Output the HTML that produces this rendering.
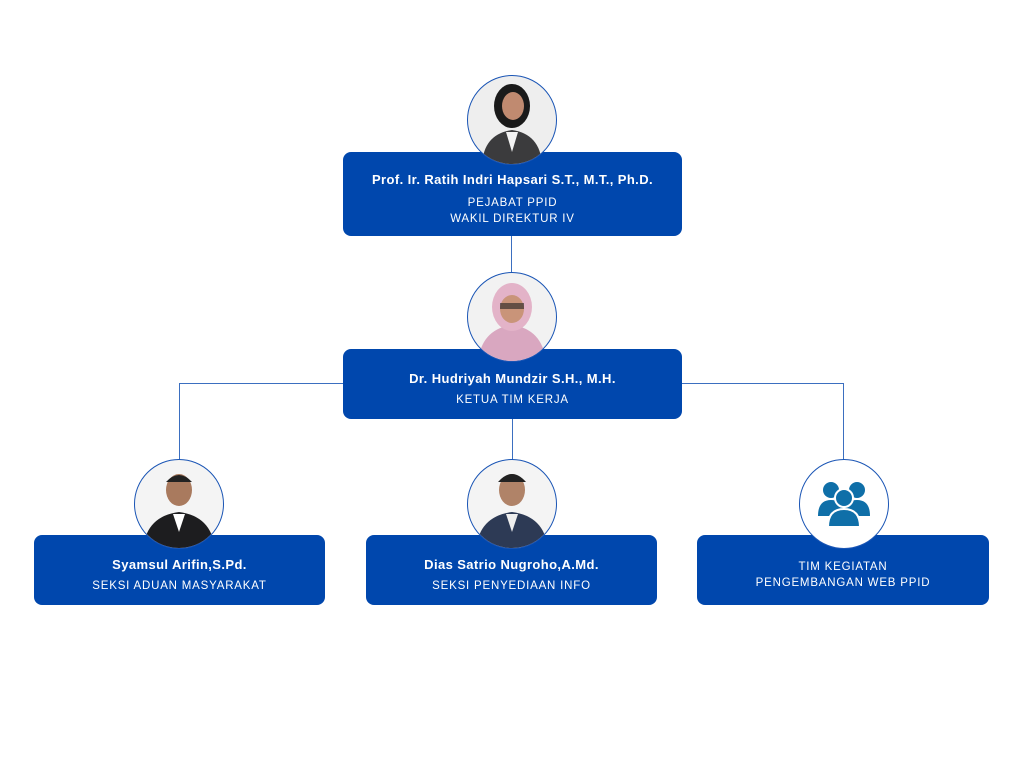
<!DOCTYPE html>
<html><head><meta charset="utf-8"><style>
body{margin:0;width:1024px;height:768px;background:#fff;position:relative;overflow:hidden;font-family:"Liberation Sans",sans-serif}
.box{position:absolute;background:#0047ad;border-radius:8px;color:#fff;text-align:center}
.n{font-weight:bold;font-size:13px;letter-spacing:.4px}
.r{font-size:11.5px;letter-spacing:.8px;line-height:16px}
.c{position:absolute;width:88px;height:88px;border-radius:50%;border:1.5px solid #1a55b5;background:#fff;overflow:hidden}
.l{position:absolute;background:#3b6fc0}
</style></head><body>
<div class="l" style="left:511px;top:236px;width:1px;height:40px"></div>
<div class="l" style="left:179px;top:383px;width:665px;height:1px"></div>
<div class="l" style="left:179px;top:383px;width:1px;height:78px"></div>
<div class="l" style="left:843px;top:383px;width:1px;height:78px"></div>
<div class="l" style="left:512px;top:419px;width:1px;height:42px"></div>

<div class="box" style="left:343px;top:152px;width:339px;height:84px">
<div class="n" style="margin-top:20px">Prof. Ir. Ratih Indri Hapsari S.T., M.T., Ph.D.</div>
<div class="r" style="margin-top:8px">PEJABAT PPID<br>WAKIL DIREKTUR IV</div></div>
<div class="box" style="left:343px;top:349px;width:339px;height:70px">
<div class="n" style="margin-top:22px">Dr. Hudriyah Mundzir S.H., M.H.</div>
<div class="r" style="margin-top:6px">KETUA TIM KERJA</div></div>
<div class="box" style="left:34px;top:535px;width:291px;height:70px">
<div class="n" style="margin-top:22px">Syamsul Arifin,S.Pd.</div>
<div class="r" style="margin-top:6px">SEKSI ADUAN MASYARAKAT</div></div>
<div class="box" style="left:366px;top:535px;width:291px;height:70px">
<div class="n" style="margin-top:22px">Dias Satrio Nugroho,A.Md.</div>
<div class="r" style="margin-top:6px">SEKSI PENYEDIAAN INFO</div></div>
<div class="box" style="left:697px;top:535px;width:292px;height:70px">
<div class="r" style="margin-top:24px">TIM KEGIATAN<br>PENGEMBANGAN WEB PPID</div></div>

<div class="c" style="left:467px;top:75px;background:#eee"><svg width="88" height="88"><ellipse cx="44" cy="30" rx="18" ry="22" fill="#1a1a1a"/><ellipse cx="45" cy="30" rx="11" ry="14" fill="#c08a70"/><path d="M14 88 Q16 58 44 54 Q72 58 74 88Z" fill="#3b3b3d"/><path d="M38 56 L44 76 L50 56Z" fill="#f2f2f2"/></svg></div>
<div class="c" style="left:467px;top:272px;background:#f2f2f2"><svg width="88" height="88"><path d="M10 88 Q14 56 44 52 Q74 56 78 88Z" fill="#d9a7c0"/><ellipse cx="44" cy="34" rx="20" ry="24" fill="#e3b3c8"/><ellipse cx="44" cy="36" rx="12" ry="14" fill="#c99479"/><rect x="32" y="30" width="24" height="6" fill="#222" opacity=".6"/></svg></div>
<div class="c" style="left:134px;top:459px;background:#f4f4f4"><svg width="88" height="88"><ellipse cx="44" cy="30" rx="13" ry="16" fill="#a97a5e"/><path d="M31 22 Q44 8 57 22Z" fill="#222"/><path d="M8 88 Q12 56 44 52 Q76 56 80 88Z" fill="#1d1d1f"/><path d="M38 54 L44 72 L50 54Z" fill="#fff"/></svg></div>
<div class="c" style="left:467px;top:459px;background:#f4f4f4"><svg width="88" height="88"><ellipse cx="44" cy="30" rx="13" ry="16" fill="#b08368"/><path d="M30 22 Q44 6 58 22Z" fill="#222"/><path d="M8 88 Q12 56 44 52 Q76 56 80 88Z" fill="#2d3a55"/><path d="M38 54 L44 72 L50 54Z" fill="#eee"/></svg></div>
<div class="c" style="left:799px;top:459px"><svg width="88" height="88" fill="#0f6fa8"><circle cx="31" cy="30" r="8"/><circle cx="57" cy="30" r="8"/><path d="M18 56 Q18 40 31 40 Q44 40 44 56Z"/><path d="M44 56 Q44 40 57 40 Q70 40 70 56Z"/><circle cx="44" cy="38" r="9" stroke="#fff" stroke-width="2"/><path d="M28 67 Q28 49 44 49 Q60 49 60 67Z" stroke="#fff" stroke-width="2"/></svg></div>
</body></html>
